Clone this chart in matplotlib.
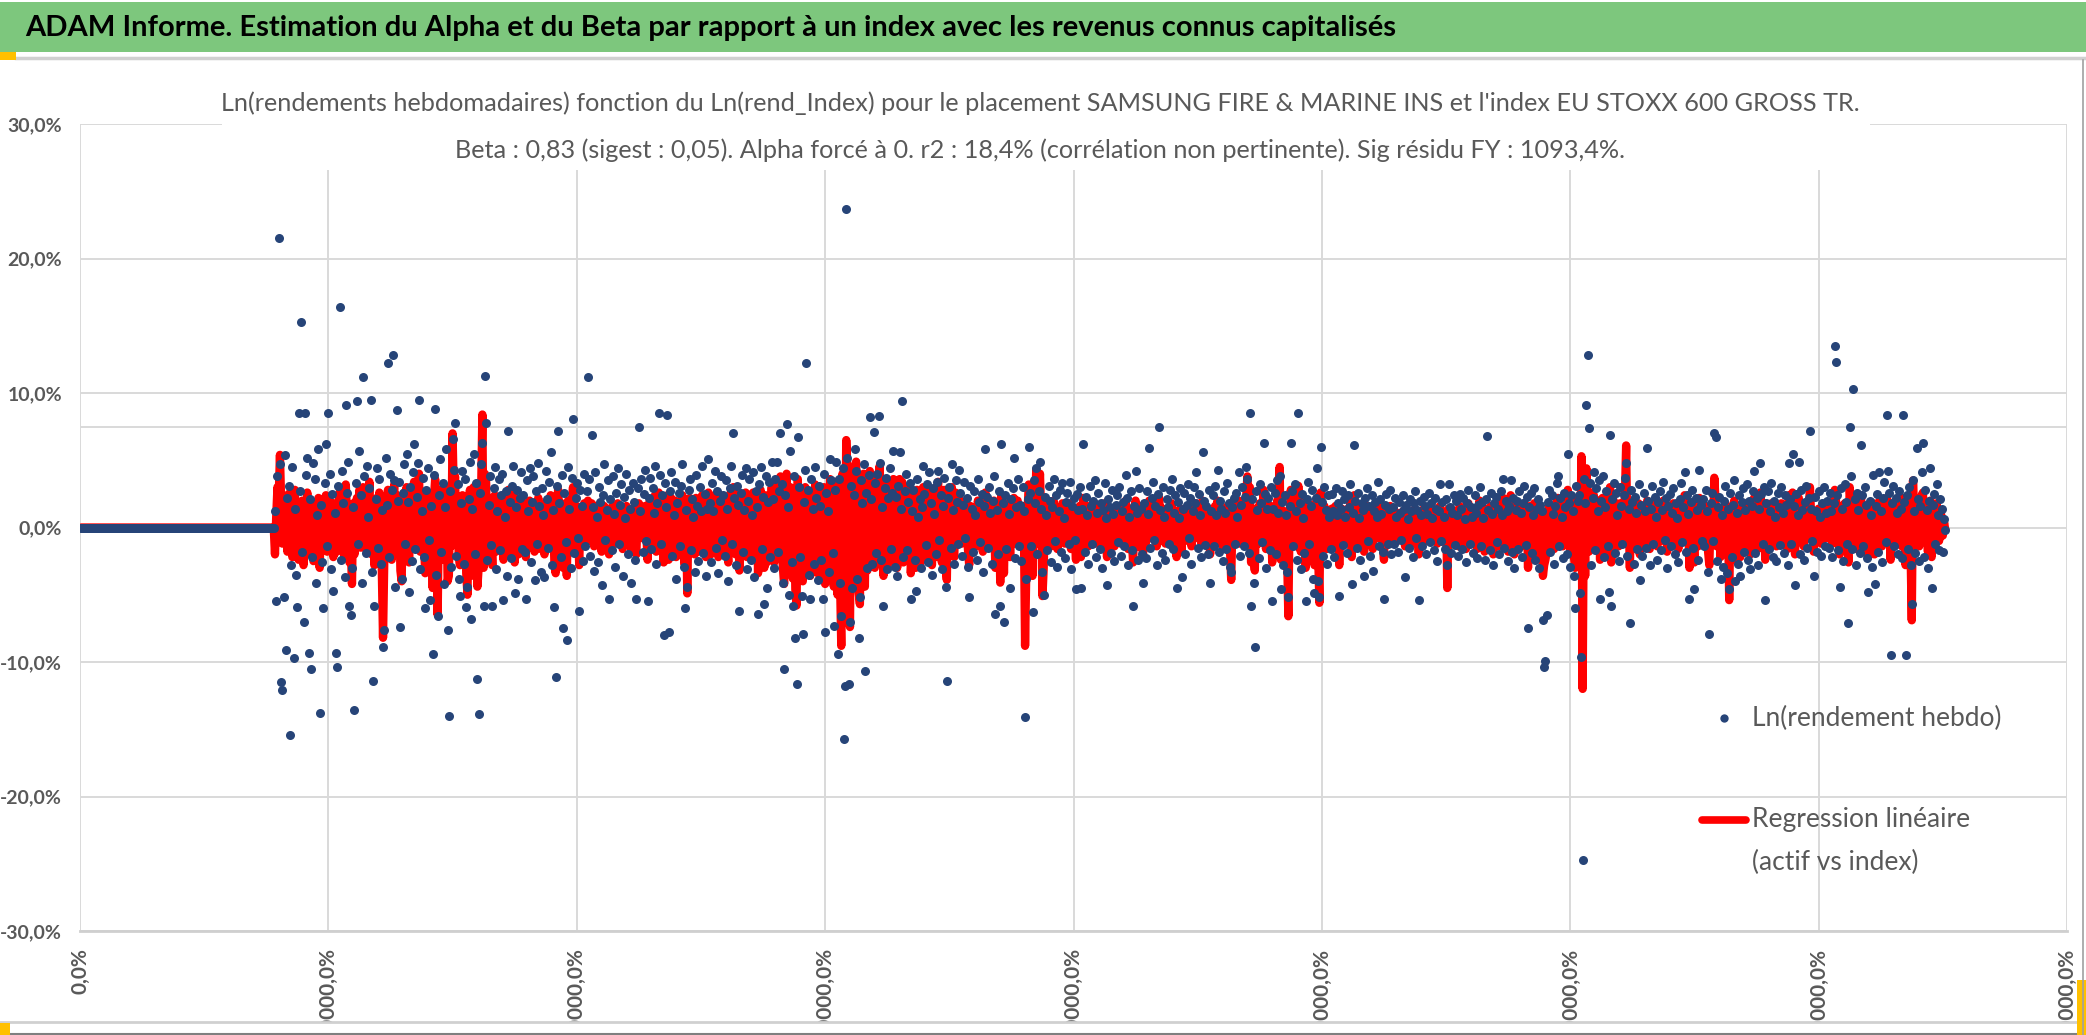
import numpy as np
import matplotlib.pyplot as plt
from matplotlib.lines import Line2D
from matplotlib.patches import Rectangle

plt.rcParams['font.family'] = ['Lato', 'DejaVu Sans']

W, H = 2086, 1035  # taille de l'image en pixels

# semaines sans historique (rendement nul) avant le début des données
N_ZERO = 156

# Ln(rendement hebdo) de l'actif, en dixièmes de % (une ligne = 50 semaines)
ASSET_RET = """
12 -55 38 215 47 -115 -121 -52 54 -91 22 31 -154 -28 45 -97 14 -35 -59 85 27 153 -18 -70 85 39 52 -93 21 -105 -22 48 36 -41 9 58 -138 17 -26 -60 33 62 -14 85 40 -31 25 -47 11 -93
-104 31 164 -24 42 18 -37 91 26 49 -58 -65 -30 15 -136 33 94 -12 57 24 -41 112 38 -19 46 8 29 95 -33 -114 -58 21 44 -15 36 -27 13 -89 -76 52 17 122 -22 40 28 128 35 -44 87 20
34 -74 -38 26 47 -12 55 19 -48 30 -25 41 62 -16 23 48 95 -31 12 37 -22 -60 28 44 -9 -54 16 -94 39 88 -35 -66 24 51 -18 33 -42 15 58 -76 -140 27 -29 66 43 78 -21 32 -38 -51
18 42 -27 36 -59 -44 21 49 -68 14 55 -20 33 -113 -139 26 47 63 -58 113 78 -24 17 38 -13 -58 29 45 -31 12 36 -17 24 40 -54 8 27 -36 72 19 -23 31 46 -49 15 28 -38 22 41 -16
24 -18 -53 35 12 44 -26 19 38 -39 27 -12 48 16 -33 29 9 -37 42 21 -15 34 56 -28 13 -59 -111 31 72 18 -22 39 -75 26 -11 -84 45 14 -30 37 81 -19 22 33 -8 -62 28 16 -25 40
-14 27 112 36 -21 69 15 -32 41 8 -26 30 19 -43 24 47 -9 13 35 -53 21 -17 38 10 -29 26 44 -12 17 32 -36 23 7 40 -20 28 14 -41 33 19 -24 -53 29 75 12 36 -18 25 43 -10
-55 22 37 -16 29 11 46 -27 18 85 39 -12 24 -80 33 15 84 -78 27 41 -21 9 34 -38 18 26 -14 31 47 -29 -60 13 -44 28 36 -17 21 8 -33 39 16 -25 30 12 46 -19 25 -36 14 51
18 -26 33 12 42 -15 27 -34 20 38 -9 24 -21 35 14 -40 29 46 -12 70 22 -28 31 17 -62 26 39 -18 13 44 -31 20 36 -24 9 41 -37 27 15 -64 32 45 -16 23 -57 38 -45 19 34 -22
49 21 -30 36 49 -18 27 70 32 -41 -105 24 77 15 -50 57 -26 -58 38 -82 -116 67 30 -22 -51 -79 19 43 122 28 -35 -53 36 14 -27 45 22 -39 31 16 -24 -53 40 -78 26 12 -33 51 35 -19
-73 28 49 -94 36 -41 -66 44 -157 -118 237 52 -116 -70 31 -45 24 58 42 -38 -82 -52 35 18 47 -107 26 -30 39 82 21 -27 71 33 -19 40 83 48 -24 15 -58 29 37 -31 22 44 -16 26 57 -29
23 -36 31 56 14 94 -22 27 40 -17 19 33 -53 12 28 -24 -47 36 8 21 -30 15 46 25 -13 32 -26 41 18 -35 29 10 -20 34 42 -9 24 -31 16 37 -44 -114 22 30 -15 47 13 -27 35 19
-12 43 26 -21 17 34 -8 22 -29 -52 31 14 -18 27 9 -24 36 19 -11 25 -33 16 58 23 -15 30 11 -27 20 38 -64 13 -20 27 -58 62 18 -70 24 -16 33 10 -45 21 29 52 -23 15 36 -14
17 -25 30 12 -141 -38 21 60 26 -14 -63 35 18 44 -20 27 49 14 -33 -50 23 9 -17 31 20 -26 15 36 -10 24 -29 12 28 -18 33 7 -23 19 26 -12 34 -31 16 22 -9 -46 25 13 30 -45
14 62 -18 23 9 -27 31 16 -12 20 35 -22 11 26 -16 18 -30 13 33 7 -43 21 15 -19 28 10 -25 17 24 -11 30 -21 12 19 -14 39 22 -28 8 27 -17 -58 16 42 11 -24 29 14 -20 -41
18 -23 27 10 59 -15 22 34 -9 16 -28 25 75 13 -19 30 8 -24 21 15 -12 28 36 -16 11 24 -45 19 7 29 -37 14 26 -20 17 32 -8 22 -27 12 30 18 41 -15 25 9 -22 56 20 -13
16 -20 28 -41 12 24 -14 31 9 43 -18 20 14 -25 27 11 -16 33 18 -29 -33 15 22 -12 26 8 41 -21 17 30 -14 23 45 36 -19 85 -58 21 -41 -89 27 13 -23 32 18 -11 63 25 -30 14
22 -17 30 -55 14 26 -20 35 11 38 -46 19 -28 24 9 -33 -52 16 63 27 -14 32 12 -24 85 18 -31 25 7 -19 -55 21 34 -12 16 28 -38 -49 22 44 -40 -52 60 19 -21 30 13 -27 24 8
-16 25 12 -22 29 9 18 -51 14 27 -13 21 8 -19 24 15 32 -42 11 61 20 -15 26 7 -24 18 13 -36 22 29 -10 16 -21 24 -32 12 19 8 34 -14 21 10 -18 -53 17 25 -12 14 28 -20
15 -12 22 8 -18 19 11 -9 24 14 -37 17 6 -15 21 12 -22 18 27 -8 13 -54 20 9 -14 23 16 -20 10 26 -11 18 7 -17 22 14 -25 12 32 -10 19 8 -16 21 -28 32 15 -19 11 24
-13 20 9 -21 25 14 -16 22 6 -26 18 28 -12 15 8 -19 24 11 -23 17 30 -14 19 7 -24 21 68 13 -17 26 10 -28 18 23 -11 14 -20 27 9 36 -15 20 12 -25 16 35 -18 22 -30 13
20 -16 27 11 -22 18 31 -13 23 -75 15 26 -19 9 29 -24 14 21 -30 17 12 -69 -104 -99 -65 19 28 -18 24 10 -27 16 33 38 -14 22 8 -23 26 15 -20 55 18 -29 24 12 -36 -60 31 20
24 -49 -96 -247 36 18 91 128 74 33 -28 22 41 -17 29 12 35 -53 20 38 -22 15 27 -14 -48 69 -58 21 33 -19 26 9 -25 30 16 -12 24 37 48 -21 14 -71 28 19 -27 23 11 -16 32 -39
17 -21 26 12 -15 59 20 -28 14 31 -12 23 8 -24 19 27 -17 13 34 -9 22 -30 16 25 -14 11 29 -20 18 7 -26 21 33 -11 15 41 -18 24 10 -53 19 28 -15 -46 22 13 -24 43 17 -10
21 -14 28 12 -33 -79 18 26 -10 70 67 -25 15 23 -38 9 -29 20 31 -34 14 -46 26 -22 17 35 -40 11 -27 24 -36 19 29 -18 13 32 -24 20 -31 16 27 42 -19 22 -28 14 48 25 -12 30
-54 18 27 -16 12 33 -22 20 8 -25 26 15 -13 30 11 -19 24 17 -28 48 21 -12 55 16 -43 25 9 49 -20 28 13 -24 19 31 -15 22 72 14 -10 -36 23 12 -18 27 8 -21 18 30 -14 11
20 -15 26 12 -22 18 135 123 24 -17 -44 29 14 -25 32 19 -12 -71 75 38 -16 103 21 -28 26 13 -19 61 24 -14 30 17 -23 -48 20 9 -29 39 -42 16 25 -18 41 12 -26 22 34 -11 84 42
26 -95 18 31 -14 22 11 -20 27 14 -23 84 19 -95 24 -16 30 -28 -57 35 12 -19 59 21 -25 16 41 63 -22 28 13 -30 20 44 -45 17 25 -12 32 9 -17 21 14 -18 6 -2
"""

# droite de régression (beta x Ln(rendement index)), en dixièmes de %
REGR_RET = """
-20 8 30 22 54 18 -12 10 -8 14 -18 25 -10 6 -22 12 28 -15 9 -24 16 -6 20 -28 12 -14 26 -9 4 -20 15 -25 10 18 -12 22 -30 8 -6 14 -10 24 -18 12 20 -15 6 -22 18 -8
-18 12 26 -14 20 8 -22 32 10 -16 -26 -12 -42 18 -20 14 22 -8 28 -15 12 30 -10 24 -18 6 34 -12 -20 16 -28 10 22 -14 26 -10 -30 -82 -25 18 12 28 -16 20 -24 14 32 -18 24 -10
20 -32 -40 14 26 -8 30 12 -26 18 -14 22 34 -10 16 28 40 -18 8 20 -12 -34 14 26 -6 -30 10 -45 22 36 -20 -65 12 28 -10 18 -24 8 30 -40 -36 16 -14 70 24 38 -12 18 -22 -28
10 24 -16 20 -34 -50 12 28 -36 8 30 -12 18 -44 -30 14 26 84 -30 40 34 -14 10 22 -8 -28 16 24 -18 6 20 -10 14 22 -24 4 16 -20 28 10 -14 18 24 -26 8 16 -20 12 22 -10
14 -10 -22 18 6 20 -14 10 16 -18 12 -6 22 8 -16 14 4 -20 18 10 -8 16 24 -14 6 -26 -34 14 28 10 -12 18 -30 12 -6 -36 20 8 -16 18 30 -10 12 16 -4 -28 14 8 -12 18
-6 12 20 16 -10 18 6 -14 16 4 -12 14 8 -18 10 16 -4 6 14 -20 10 -8 16 4 -12 12 18 -6 8 14 -16 10 2 16 -8 12 6 -18 14 8 -10 -20 12 18 6 14 -8 10 16 -4
-24 16 20 -14 18 -10 24 -18 14 26 20 -12 16 -26 18 -14 24 -24 16 22 -16 10 20 -22 14 18 -12 18 24 -20 -28 12 -49 18 22 -14 16 -10 -20 22 14 -18 20 -12 24 -16 18 -22 12 26
14 -20 22 -12 24 -14 18 -22 16 24 -12 18 -18 22 -10 -26 20 26 -14 30 16 -20 22 14 -32 18 24 -16 12 26 -22 16 24 -18 10 26 -24 18 14 -34 22 28 -14 18 -30 24 -26 16 22 -18
30 -18 -26 34 28 -20 24 38 -16 -30 -42 14 40 -22 -34 30 -28 -38 26 -46 -58 36 -20 24 -32 -40 18 30 -24 22 -30 -36 26 -18 -28 32 20 -34 28 -22 -26 -38 30 -42 24 -16 -30 36 26 -24
-44 26 34 -50 30 -38 -88 40 -60 -45 65 38 -50 -74 32 -40 28 46 49 -34 -48 -57 36 -26 40 -44 30 -32 36 42 -28 30 38 -30 34 -24 40 46 -26 30 -36 28 34 -30 22 32 -24 28 36 -26
22 -30 28 36 -20 34 -26 24 30 -22 20 28 -34 -18 26 -24 -30 28 -16 22 -26 18 30 24 -20 26 -22 28 18 -28 24 -16 -22 26 34 -18 22 -26 16 28 -30 -39 20 24 -18 30 -14 -22 26 18
-8 22 14 -12 10 18 -4 12 -16 -28 16 8 -10 14 4 -14 20 10 -6 14 -18 8 26 12 -8 16 6 -14 10 20 -30 8 -12 14 -41 24 10 -34 12 -8 18 6 -22 12 16 22 -12 8 20 -8
10 -14 16 6 -88 -30 12 32 14 -8 -36 20 10 43 -12 16 40 8 -51 -30 12 4 -10 18 10 -14 8 20 -6 14 -16 6 14 -10 18 4 -12 10 14 -6 18 -16 8 12 -4 -24 14 6 16 -22
8 22 -10 12 4 -14 16 8 -6 10 18 -12 6 14 -8 10 -16 6 18 4 -22 12 8 -10 14 6 -14 10 12 -6 16 -12 6 10 -8 20 12 -16 4 14 -10 -26 8 20 6 -14 16 8 -12 -20
10 -12 14 6 20 -8 12 16 -4 8 -14 12 22 6 -10 14 4 -12 10 8 -6 14 18 -8 6 12 -22 10 4 14 -18 8 12 -10 8 16 -4 10 -14 6 14 8 18 -8 12 4 -12 20 10 -6
8 -10 14 -20 6 12 -8 16 4 20 -10 10 6 -14 14 4 -8 16 10 -16 -39 8 12 -6 14 4 20 -12 8 16 -8 12 22 38 -10 30 -26 12 -22 -32 14 6 -12 18 10 -6 28 12 -16 8
12 -10 16 -26 8 14 -12 20 6 45 -24 10 -16 12 4 -20 -66 8 28 14 -8 18 6 -14 31 10 -18 12 4 -10 -30 12 18 -8 10 16 -20 -28 14 22 -20 -56 26 10 -12 16 8 -16 12 4
-10 14 6 -12 16 4 10 -28 8 14 -6 12 4 -10 14 8 18 -22 6 24 10 -8 14 4 -14 10 8 -18 12 16 -6 8 -12 14 -16 6 10 4 18 -8 12 6 -10 -24 8 14 -6 8 16 -12
8 -6 12 4 -10 10 6 -4 12 8 -14 10 4 -8 12 6 -12 10 14 -4 6 -20 12 4 -8 14 8 -10 6 14 -6 10 4 -10 12 8 -12 6 16 -4 10 4 -8 12 -45 14 8 -10 6 12
-8 12 6 -14 16 8 -10 14 4 -16 10 18 -6 8 4 -12 14 6 -16 10 20 -10 12 4 -18 14 10 8 -12 16 6 -20 12 16 -8 10 -14 18 6 22 -10 14 8 -18 10 24 -12 16 -20 8
12 -10 16 8 -14 12 18 -8 14 -30 10 16 -12 6 18 -16 8 12 -20 10 6 -36 -28 -24 -18 12 16 -10 14 6 -16 10 20 22 -8 14 4 -14 16 10 -12 28 10 -18 14 8 -22 -30 20 12
16 -20 53 -120 30 -36 44 20 -18 26 -14 18 24 -10 16 8 20 -24 12 22 -12 10 18 -8 -22 30 -26 12 20 -10 16 6 -14 18 10 -8 14 22 61 -12 10 -30 16 12 -16 14 6 -10 18 -20
10 -12 14 8 -10 20 12 -16 8 18 -8 14 4 -14 12 16 -10 8 20 -6 14 -18 10 16 -8 6 18 -12 10 4 -16 12 20 -6 8 24 -10 14 6 -30 12 16 -8 -26 14 8 -14 22 10 -6
12 -10 16 8 -18 -28 10 14 -6 37 20 -14 8 12 -22 6 -18 12 18 -20 8 -54 14 -16 10 20 -24 6 -18 14 -22 10 16 -12 8 18 -14 12 -20 10 16 22 -10 12 -16 8 26 14 -8 18
-24 10 16 -8 6 18 -12 12 4 -14 14 8 -6 18 6 -10 12 8 -16 24 10 -6 26 8 -20 12 4 22 -10 14 6 -14 10 16 -8 12 30 8 -6 -18 12 6 -10 14 4 -12 10 16 -8 6
10 -8 14 6 -12 10 28 20 12 -10 -20 16 8 -14 18 10 -8 -26 30 16 -10 20 12 -16 14 6 -12 24 10 -8 16 8 -14 -22 10 4 -16 18 -20 8 12 -10 20 6 -14 10 18 -6 22 14
14 -24 10 18 -8 12 6 -12 16 8 -14 22 10 -28 14 -10 18 -16 -69 35 6 -12 20 12 -14 10 24 26 -10 16 8 -18 12 20 -22 10 14 -8 18 4 -10 12 8 -6 4 -2
"""

X_TICKS = [0, 200, 400, 600, 800, 1000, 1200, 1400, 1600]
Y_TICKS = [-0.3, -0.2, -0.1, 0.0, 0.1, 0.2, 0.3]

TITLE = ("ADAM Informe. Estimation du Alpha et du Beta par rapport à un index "
         "avec les revenus connus capitalisés")
SUBTITLE_1 = ("Ln(rendements hebdomadaires) fonction du Ln(rend_Index) pour le placement "
              "SAMSUNG FIRE & MARINE INS et l'index EU STOXX 600 GROSS TR.")
SUBTITLE_2 = ("Beta : 0,83 (sigest : 0,05). Alpha forcé à 0. r2 : 18,4% "
              "(corrélation non pertinente). Sig résidu FY : 1093,4%.")
LABEL_DOTS = "Ln(rendement hebdo)"
LABEL_LINE = ["Regression linéaire", "(actif vs index)"]

asset = np.concatenate([np.zeros(N_ZERO), np.array(ASSET_RET.split(), float) / 1000])
regr = np.concatenate([np.zeros(N_ZERO), np.array(REGR_RET.split(), float) / 1000])
weeks = np.arange(1, len(asset) + 1)

GRID = '#D9D9D9'
TXT = '#595959'
BLUE = '#264478'
RED = '#FF0000'


def fx(px):
    return px / W


def fy(py):
    return 1 - py / H


def pct(v):
    return f"{v * 100:.1f}%".replace('.', ',')


fig = plt.figure(figsize=(W / 100, H / 100), dpi=100)
fig.patch.set_facecolor('white')

# bandeau vert du haut
fig.add_artist(Rectangle((0, fy(52)), 1, 50 / H, transform=fig.transFigure,
                         facecolor='#7DC77D', edgecolor='none', zorder=1))
fig.add_artist(Line2D([fx(16), 1], [fy(58), fy(58)], transform=fig.transFigure,
                      color='#D0D0D0', lw=2.5, zorder=1))
fig.add_artist(Rectangle((0, fy(60)), 16 / W, 8 / H, transform=fig.transFigure,
                         facecolor='#FFC000', edgecolor='none', zorder=1))
fig.text(fx(25), fy(28), TITLE, ha='left', va='center', fontsize=21,
         fontweight='bold', color='black')

ax = fig.add_axes([fx(80), fy(931), (2067 - 80) / W, (931 - 124) / H])
ax.set_facecolor('white')

# la droite passe sous les points, comme dans Excel
ax.plot(weeks, regr, color=RED, lw=6, solid_joinstyle='round',
        solid_capstyle='round', zorder=2)
ax.plot(weeks, asset, 'o', color=BLUE, ms=6.5, mew=0, zorder=3)
ax.axhline(0.075, color=GRID, lw=1.4, zorder=1)

ax.set_xlim(X_TICKS[0], X_TICKS[-1])
ax.set_ylim(Y_TICKS[0], Y_TICKS[-1])
ax.set_xticks(X_TICKS)
ax.set_xticklabels([pct(v) for v in X_TICKS], rotation=90, va='top',
                   fontsize=15, fontweight='bold', color=TXT)
ax.set_yticks(Y_TICKS)
ax.set_yticklabels([pct(v) for v in Y_TICKS], fontsize=14, fontweight='bold', color=TXT)
ax.tick_params(length=0)
ax.tick_params(axis='x', pad=12)
ax.tick_params(axis='y', pad=13)
ax.grid(True, color=GRID, lw=1.4, zorder=0)
ax.set_axisbelow(True)
for side in ['left', 'right', 'top']:
    ax.spines[side].set_visible(False)
ax.spines['bottom'].set_color('#CFCFCF')
ax.spines['bottom'].set_linewidth(2)

# titre du graphique, sur fond blanc par-dessus la grille
fig.add_artist(Rectangle((fx(222), fy(170)), (1870 - 222) / W, 88 / H,
                         transform=fig.transFigure, facecolor='white',
                         edgecolor='none', zorder=2))
fig.text(fx(1040), fy(103), SUBTITLE_1, ha='center', va='center', fontsize=18.2,
         color=TXT, zorder=3)
fig.text(fx(1040), fy(150), SUBTITLE_2, ha='center', va='center', fontsize=18.2,
         color=TXT, zorder=3)

# légende
fig.add_artist(Line2D([fx(1724)], [fy(718)], transform=fig.transFigure,
                      marker='o', ms=6, mew=0, color=BLUE, zorder=4))
fig.text(fx(1752), fy(718), LABEL_DOTS, ha='left', va='center', fontsize=19, color=TXT)
fig.add_artist(Line2D([fx(1702), fx(1746)], [fy(820), fy(820)], transform=fig.transFigure,
                      color=RED, lw=5.5, solid_capstyle='round', zorder=4))
fig.text(fx(1752), fy(820), LABEL_LINE[0], ha='left', va='center', fontsize=19, color=TXT)
fig.text(fx(1752), fy(862), LABEL_LINE[1], ha='left', va='center', fontsize=19, color=TXT)

# bas de la feuille : les étiquettes de l'axe x sont coupées
fig.add_artist(Rectangle((0, 0), 1, 13 / H, transform=fig.transFigure,
                         facecolor='white', edgecolor='none', zorder=5))
fig.add_artist(Line2D([0, 1], [fy(1022), fy(1022)], transform=fig.transFigure,
                      color='#D0D0D0', lw=2, zorder=6))
fig.add_artist(Line2D([0, 1], [fy(1034), fy(1034)], transform=fig.transFigure,
                      color='#7F7F7F', lw=1.5, zorder=6))
fig.add_artist(Rectangle((0, 0), 10 / W, 12 / H, transform=fig.transFigure,
                         facecolor='#FFC000', edgecolor='none', zorder=6))
fig.add_artist(Rectangle((fx(2077), 0), 9 / W, 55 / H, transform=fig.transFigure,
                         facecolor='#FFC000', edgecolor='none', zorder=6))
fig.add_artist(Line2D([fx(2083), fx(2083)], [0, fy(60)], transform=fig.transFigure,
                      color='#A0A0A0', lw=1.2, zorder=6))

fig.savefig('out.png', dpi=100)
